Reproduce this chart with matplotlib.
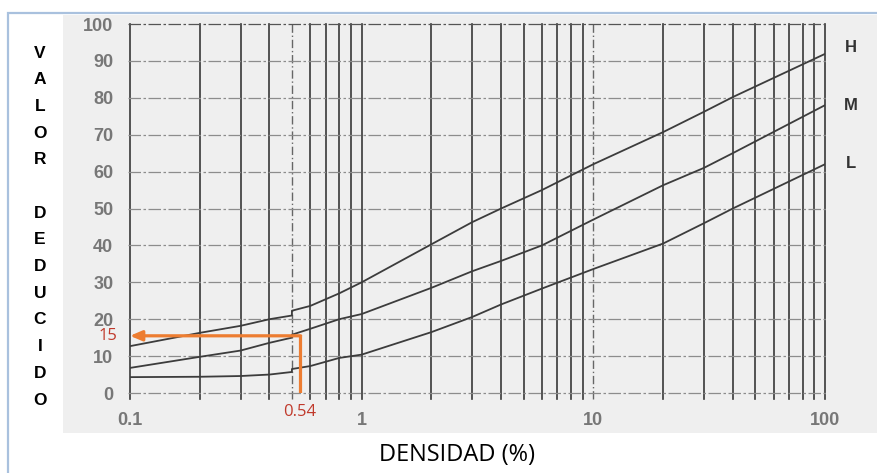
import numpy as np
import matplotlib.pyplot as plt
from matplotlib.patches import Rectangle

# curvas de valor deducido, el 0.5 aparece dos veces por el salto
densidad = [0.1, 0.2, 0.3, 0.4, 0.5, 0.5, 0.6, 0.8, 1, 2, 3, 4, 6, 10, 20, 30, 40, 100]
curva_H = [12.7, 16.3, 18.2, 20.0, 21.0, 22.3, 23.6, 27.0, 30.0, 40.3, 46.3, 50.0, 55.0, 62.0, 70.7, 76.2, 80.2, 91.9]
curva_M = [6.8, 9.8, 11.5, 13.6, 15.0, 15.8, 17.4, 20.0, 21.4, 28.5, 33.0, 35.8, 40.0, 47.0, 56.3, 61.0, 65.0, 78.0]
curva_L = [4.3, 4.4, 4.6, 5.0, 5.7, 6.5, 7.3, 9.5, 10.4, 16.5, 20.6, 24.0, 28.3, 33.6, 40.5, 46.0, 50.0, 62.0]
nombres = ['H', 'M', 'L']

x_ticks = [0.1, 1, 10, 100]
x_ticklabels = ['0.1', '1', '10', '100']
y_ticks = list(range(0, 101, 10))

dens_ej = 0.54
vd_ej = 15.5
lbl_dens = '0.54'
lbl_vd = '15'

fig = plt.figure(figsize=(8.77, 4.73), dpi=100)

# marco azul y fondo gris del escaneo
fig.patches.append(Rectangle((8/877, -0.05), 1.0, 1 - 13/473 + 0.05, transform=fig.transFigure,
                             fill=False, edgecolor='#a9c1de', linewidth=1.6, zorder=-2))
fig.patches.append(Rectangle((63/877, 1 - 433/473), 1.0, (433 - 15)/473, transform=fig.transFigure,
                             facecolor='#efefef', edgecolor='none', zorder=-3))

ax = fig.add_axes([130/877, 1 - 393/473, 695/877, 369/473])
ax.set_xscale('log')
ax.set_xlim(0.1, 100)
ax.set_ylim(0, 100)
ax.patch.set_alpha(0)
for s in ax.spines.values():
    s.set_visible(False)

# rejilla vertical
for k in [0.1, 1, 10]:
    for m in range(1, 10):
        v = m*k
        if np.isclose(v, 0.5) or np.isclose(v, 10):
            ax.plot([v, v], [-1.5, 100], color='#666666', lw=1.0, ls=(0, (6, 2, 1, 2)), clip_on=False)
        else:
            ax.plot([v, v], [-1.5, 100], color='#383838', lw=1.2, clip_on=False)
ax.plot([100, 100], [-1.5, 100], color='#383838', lw=1.2, clip_on=False)

# rejilla horizontal
for yv in y_ticks:
    c = '#555555' if yv == 100 else '#8c8c8c'
    ax.plot([0.098, 101], [yv, yv], color=c, lw=0.9, ls=(0, (10, 2, 2, 2)), clip_on=False)

for yy in [curva_H, curva_M, curva_L]:
    ax.plot(densidad, yy, color='#3c3c3c', lw=1.3)

ax.set_xticks(x_ticks)
ax.set_xticklabels(x_ticklabels)
ax.set_yticks(y_ticks)
ax.minorticks_off()
ax.tick_params(length=0, colors='#777777', labelsize=13, pad=12)
ax.tick_params(axis='x', pad=14)
for t in ax.get_xticklabels() + ax.get_yticklabels():
    t.set_fontweight('bold')
    t.set_family('Liberation Sans')

# etiquetas H M L
for nom, yp in zip(nombres, [47, 105, 163]):
    fig.text(851/877, 1 - yp/473, nom, ha='center', va='center',
             fontsize=12, fontweight='bold', color='#333333', family='Liberation Sans')

# ejemplo en naranja
ax.plot([dens_ej, dens_ej], [0, vd_ej], color='#ed7d31', lw=2.3, solid_capstyle='butt')
ax.annotate('', xy=(0.1, vd_ej), xytext=(dens_ej*1.01, vd_ej),
            arrowprops=dict(arrowstyle='-|>,head_length=0.7,head_width=0.3', color='#ed7d31', lw=2.3,
                            shrinkA=0, shrinkB=0))
ax.text(0.088, vd_ej, lbl_vd, ha='right', va='center', color='#c0392b', fontsize=12, family='Open Sans')
ax.text(dens_ej, -3.0, lbl_dens, ha='center', va='top', color='#c0392b', fontsize=12, family='Open Sans')

# titulo eje y en letras apiladas
letras = list('VALOR') + [''] + list('DEDUCIDO')
for i, le in enumerate(letras):
    fig.text(40/877, 1 - (53 + i*26.7)/473, le, ha='center', va='center', fontsize=12.5,
             fontweight='bold', color='black', family='Liberation Sans')

fig.text(457/877, 1 - 455/473, 'DENSIDAD (%)', ha='center', va='center', fontsize=17,
         color='black', family='Open Sans')

fig.savefig('out.png', dpi=100)
